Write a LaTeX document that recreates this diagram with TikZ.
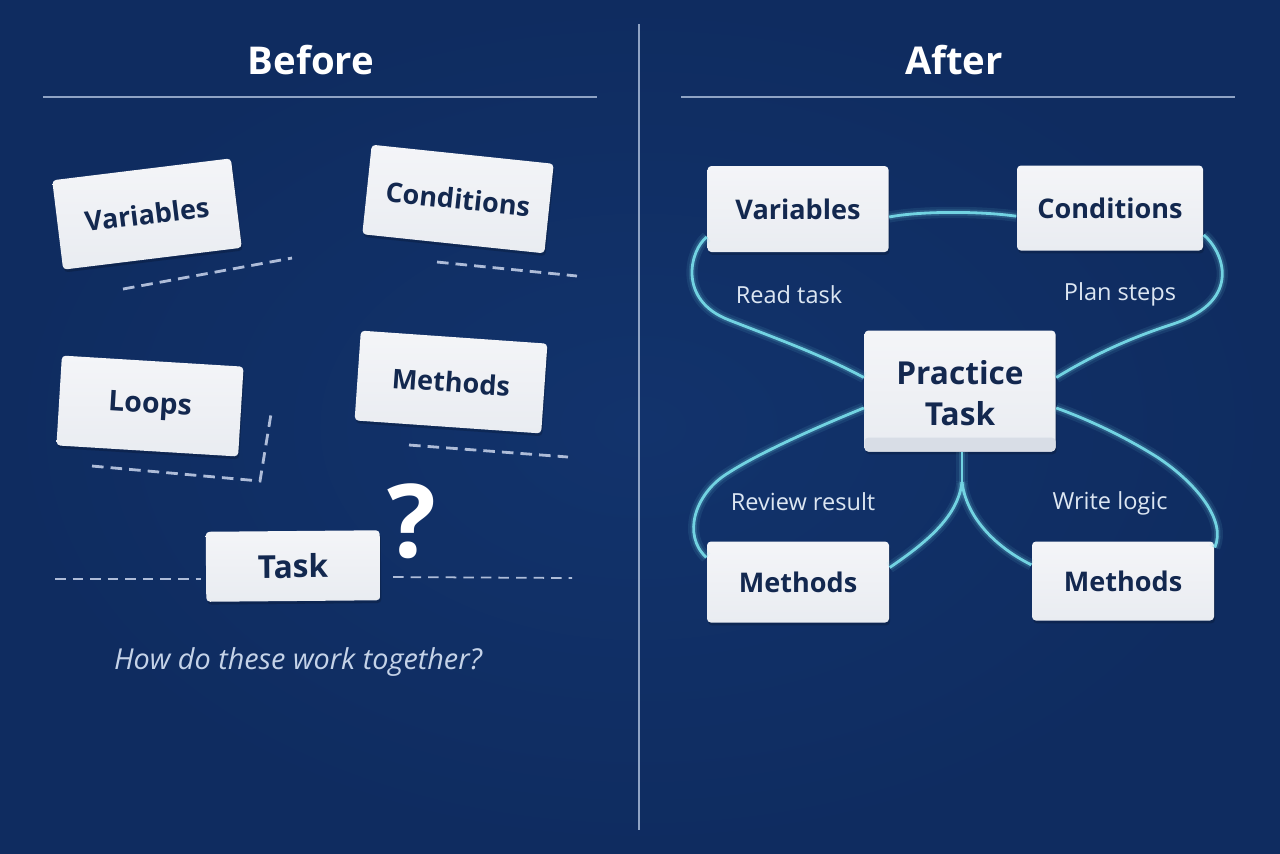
\documentclass[tikz,border=0pt]{standalone}
\usepackage{fontspec}
\setmainfont{Open Sans}
\usetikzlibrary{shadows}
\definecolor{navy}{HTML}{12336C}
\definecolor{navyedge}{HTML}{0F2C60}
\definecolor{ink}{HTML}{13284F}
\definecolor{rulecol}{HTML}{8FA3C4}
\definecolor{dashcol}{HTML}{AEBCD8}
\definecolor{labelcol}{HTML}{DCE6F2}
\definecolor{askcol}{HTML}{C5D3E8}
\definecolor{linkcol}{HTML}{72D3E2}
\definecolor{cardtop}{HTML}{F4F5F8}
\definecolor{cardlow}{HTML}{E9ECF1}
\definecolor{bandcol}{HTML}{D8DDE6}
\begin{document}
\begin{tikzpicture}[
  card/.style={rounded corners=1.1pt,top color=cardtop,bottom color=cardlow,text=ink,inner sep=0pt,align=center,
    drop shadow={shadow xshift=0.3pt,shadow yshift=-0.8pt,opacity=0.18,fill=black}},
  cardtext/.style={font=\fontsize{7.7}{10}\selectfont\bfseries},
  heading/.style={font=\fontsize{10.9}{13}\selectfont\bfseries,text=white},
  steplabel/.style={font=\fontsize{6.7}{8}\selectfont,text=labelcol},
  toprule/.style={draw=rulecol,line width=0.35pt},
  dashline/.style={draw=dashcol,line width=0.8pt,dash pattern=on 3.3pt off 2pt},
  thindash/.style={draw=dashcol,line width=0.5pt,dash pattern=on 3pt off 2pt},
  link/.style={draw=linkcol,line width=0.8pt,
    preaction={draw=linkcol,line width=3.2pt,opacity=0.10},
    preaction={draw=linkcol,line width=1.8pt,opacity=0.18}}
]
\useasboundingbox (0,0) rectangle (12.8,-8.53);
\shade[inner color=navy,outer color=navyedge] (0,0) rectangle (12.8,-8.53);

%divider and titles
\coordinate (DT) at (6.39,-0.24);
\coordinate (DB) at (6.39,-8.30);
\draw [draw=rulecol,line width=0.4pt] (DT) -- (DB);
\node[heading] (H1) at (3.11,-0.60) {Before};
\node[heading] (H2) at (9.54,-0.60) {After};
\coordinate (R1) at (0.43,-0.97);
\coordinate (R2) at (5.97,-0.97);
\coordinate (R3) at (6.81,-0.97);
\coordinate (R4) at (12.35,-0.97);
\draw [toprule] (R1) -- (R2);
\draw [toprule] (R3) -- (R4);

%Before
\node[card,cardtext,rotate=7,minimum width=1.80cm,minimum height=0.90cm] (Va) at (1.47,-2.14) {Variables};
\node[card,cardtext,rotate=-6,minimum width=1.83cm,minimum height=0.90cm] (Co) at (4.58,-1.99) {Conditions};
\node[card,cardtext,font=\fontsize{8.1}{10}\selectfont\bfseries,rotate=-3.5,minimum width=1.82cm,minimum height=0.90cm] (Lo) at (1.50,-4.06) {Loops};
\node[card,cardtext,rotate=-4,minimum width=1.87cm,minimum height=0.90cm] (Me) at (4.51,-3.82) {Methods};
\node[card,font=\fontsize{9}{10}\selectfont\bfseries,rotate=0.5,minimum width=1.74cm,minimum height=0.70cm] (Ta) at (2.93,-5.66) {Task};
\node[text=white,font=\fontsize{29}{30}\selectfont\bfseries] (Q) at (4.12,-5.21) {?};
\node[text=askcol,font=\fontsize{8.2}{10}\selectfont\itshape] (Ask) at (2.98,-6.62) {How do these work together?};

%loose ends
\coordinate (a1) at (1.23,-2.89);
\coordinate (a2) at (2.92,-2.58);
\coordinate (b1) at (4.37,-2.62);
\coordinate (b2) at (5.77,-2.76);
\coordinate (c1) at (0.92,-4.66);
\coordinate (c2) at (2.60,-4.81);
\coordinate (c3) at (2.71,-4.14);
\coordinate (d1) at (4.09,-4.45);
\coordinate (d2) at (5.68,-4.57);
\coordinate (e1) at (0.55,-5.79);
\coordinate (e2) at (3.93,-5.77);
\coordinate (e3) at (5.72,-5.78);
\draw [dashline] (a1) -- (a2);
\draw [dashline] (b1) -- (b2);
\draw [dashline] (c1) -- (c2) -- (c3);
\draw [dashline] (d1) -- (d2);
\draw [thindash] (e1) -- ([xshift=-0.04cm]Ta.west |- e1);
\draw [thindash] (e2) -- (e3);

%After
\node[card,cardtext,minimum width=1.81cm,minimum height=0.86cm] (V) at (7.98,-2.09) {Variables};
\node[card,cardtext,minimum width=1.86cm,minimum height=0.85cm] (C) at (11.10,-2.08) {Conditions};
\node[card,cardtext,minimum width=1.82cm,minimum height=0.81cm] (M1) at (7.98,-5.82) {Methods};
\node[card,cardtext,minimum width=1.82cm,minimum height=0.79cm] (M2) at (11.23,-5.81) {Methods};
\node[card,minimum width=1.91cm,minimum height=1.21cm,
  path picture={\fill[bandcol] (path picture bounding box.south west) rectangle ([yshift=0.14cm]path picture bounding box.south east);}] (P) at (9.60,-3.91) {};
\node[text=ink,align=center,font=\fontsize{9}{11.7}\selectfont\bfseries] (PT) at (9.60,-3.93) {Practice\\Task};

\coordinate (Fk) at (9.62,-4.82);
\draw [link] (Fk |- P.south) -- (Fk);
\draw [link] (V.-5) .. controls (9.20,-2.11) and (9.80,-2.11) .. (C.185.5);
\draw [link] (V.197) .. controls (6.90,-2.50) and (6.77,-3.00) .. (7.29,-3.20) .. controls (7.75,-3.38) and (8.20,-3.54) .. (P.172);
\draw [link] (C.-16) .. controls (12.22,-2.50) and (12.45,-3.00) .. (11.73,-3.24) .. controls (11.30,-3.38) and (10.95,-3.54) .. (P.8);
\draw [link] (P.190) .. controls (8.10,-4.30) and (7.55,-4.55) .. (7.25,-4.75) .. controls (6.95,-4.95) and (6.82,-5.35) .. (M1.165);
\draw [link] (P.-10) .. controls (10.95,-4.22) and (11.30,-4.40) .. (11.57,-4.57) .. controls (11.95,-4.82) and (12.27,-5.20) .. (M2.20.5);
\draw [link] (Fk) .. controls (9.58,-5.15) and (9.30,-5.40) .. (M1.9);
\draw [link] (Fk) .. controls (9.66,-5.15) and (9.92,-5.45) .. (M2.170);

\node[steplabel] (L1) at (7.89,-2.95) {Read task};
\node[steplabel] (L2) at (11.20,-2.94) {Plan steps};
\node[steplabel] (L3) at (8.03,-5.02) {Review result};
\node[steplabel] (L4) at (11.10,-5.03) {Write logic};
\end{tikzpicture}
\end{document}
